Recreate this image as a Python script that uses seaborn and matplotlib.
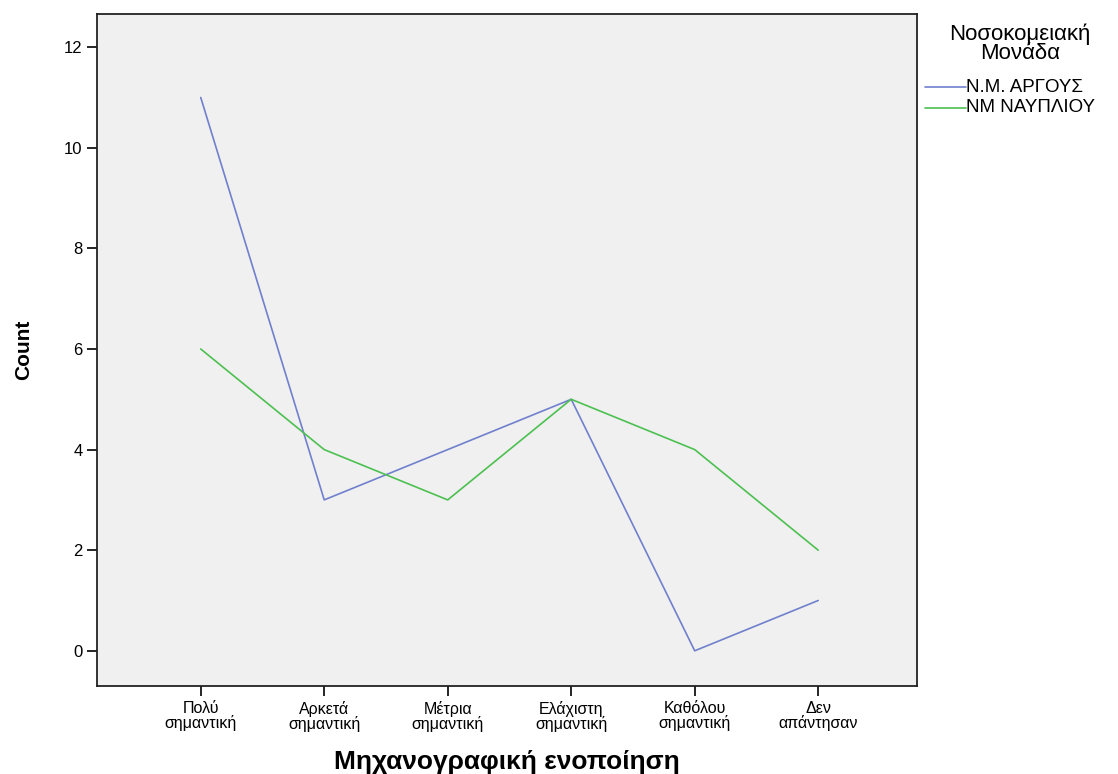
import numpy as np
import matplotlib
matplotlib.use("Agg")
import matplotlib.pyplot as plt
import seaborn as sns
import pandas as pd

# categories on the x axis
katigories = ["Πολύ\nσημαντική", "Αρκετά\nσημαντική", "Μέτρια\nσημαντική",
              "Ελάχιστη\nσημαντική", "Καθόλου\nσημαντική", "Δεν\nαπάντησαν"]
# counts per hospital unit
argos = [11, 3, 4, 5, 0, 1]
nafplio = [6, 4, 3, 5, 4, 2]
monades = ["Ν.Μ. ΑΡΓΟΥΣ", "ΝΜ ΝΑΥΠΛΙΟΥ"]
leg_cols = ["#7080cc", "#4cc050"]

df = pd.DataFrame({
    "cat": list(range(len(katigories))) * 2,
    "Count": argos + nafplio,
    "Μονάδα": [monades[0]] * 6 + [monades[1]] * 6,
})

sns.set_style("ticks")
plt.rcParams['font.family'] = ['Liberation Sans', 'DejaVu Sans']
plt.rcParams['text.color'] = 'black'
plt.rcParams['axes.labelcolor'] = 'black'
plt.rcParams['xtick.color'] = 'black'
plt.rcParams['ytick.color'] = 'black'

fig = plt.figure(figsize=(11.18, 7.74), dpi=100)
ax = fig.add_axes([97/1118, 1 - 686/774, (917-97)/1118, (686-14)/774])
ax.set_facecolor("#f0f0f0")

sns.lineplot(data=df, x="cat", y="Count", hue="Μονάδα",
             palette=leg_cols, linewidth=1.2, ax=ax, legend=False)

ax.set_xlim(-0.84, 5.80)
ax.set_ylim(-0.70, 12.66)
ax.set_yticks([0, 2, 4, 6, 8, 10, 12])
ax.set_xticks(range(len(katigories)))
ax.set_xticklabels(katigories, fontsize=11.5, linespacing=0.95)
ax.tick_params(axis="y", labelsize=12, length=7, width=1.2)
ax.tick_params(axis="x", length=7, width=1.2)
for s in ax.spines.values():
    s.set_linewidth(1.3)
    s.set_color("#222222")

ax.set_ylabel("Count", fontsize=15, fontweight="bold", labelpad=22)
ax.set_xlabel("Μηχανογραφική ενοποίηση", fontsize=19, fontweight="bold")
ax.xaxis.set_label_coords(0.5, (686 - 762) / 672)
ax.xaxis.label.set_va("center")

# legend outside, SPSS style
fig.text(1020/1118, 1 - 44/774, "Νοσοκομειακή\nΜονάδα", fontsize=16,
         ha="center", va="center", linespacing=0.9)
for i, m in enumerate(monades):
    y = 1 - (87 + i * 21) / 774
    fig.add_artist(plt.Line2D([925/1118, 966/1118], [y, y], color=leg_cols[i],
                              linewidth=1.2, transform=fig.transFigure))
    fig.text(966/1118, y, m, fontsize=13.5, ha="left", va="center")

fig.savefig("out.png", dpi=100, facecolor="white")
